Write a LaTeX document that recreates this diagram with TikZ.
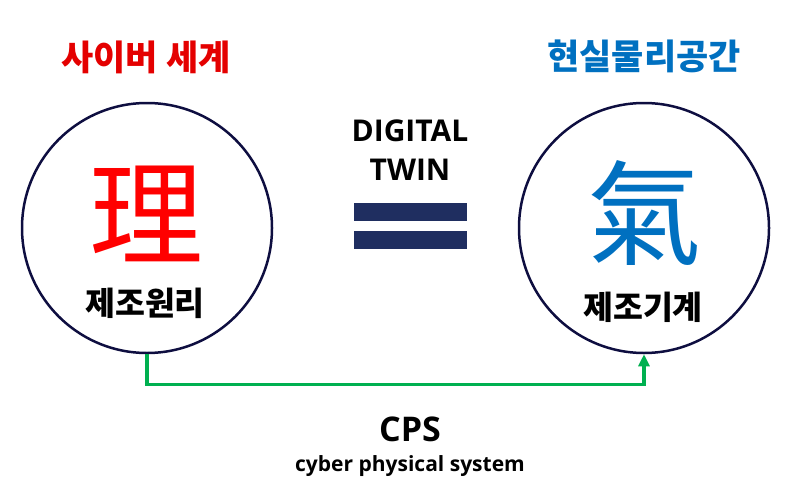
\documentclass[tikz,border=0pt]{standalone}
\usepackage{fontspec}
\setmainfont{Open Sans}
\newfontfamily\kr{Noto Sans CJK KR}
\usetikzlibrary{arrows.meta}
\definecolor{cyred}{RGB}{228,0,0}
\definecolor{phblue}{RGB}{0,112,192}
\definecolor{rimnavy}{RGB}{14,14,64}
\definecolor{barnavy}{RGB}{31,46,96}
\definecolor{cpsgreen}{RGB}{0,176,80}

\tikzset{
world/.style={draw=rimnavy, line width=2.5pt, circle, minimum size=250pt, inner sep=0pt},
worldtitle/.style={font=\kr\bfseries\fontsize{35}{40}\selectfont},
bigchar/.style={font=\kr\fontsize{114}{120}\selectfont},
worldname/.style={font=\kr\bfseries\fontsize{32.5}{36}\selectfont},
twin/.style={font=\bfseries\fontsize{30}{34}\selectfont},
link/.style={draw=cpsgreen, line width=3.5pt, -{Triangle[width=11pt,length=12pt]}}
}

\begin{document}
\begin{tikzpicture}[x=1pt, y=-1pt]

\useasboundingbox (0,0) rectangle (800,487);

% cyber world
\node[world] (lc) at (147,228) {};
\node[worldtitle, text=cyred] (lt) at (146,57) {사이버 세계};
\node[bigchar, text=red] (li) at (146,214) {理};
\node[worldname] (ln) at (145,303) {제조원리};

% physical world
\node[world] (rc) at (644,228) {};
\node[worldtitle, text=phblue] (rt) at (644,56) {현실물리공간};
\node[bigchar, text=phblue] (ri) at (644,213) {氣};
\node[worldname] (rn) at (643,307) {제조기계};

% digital twin
\node[twin] (dg) at (410,131) {DIGITAL};
\node[twin] (tw) at (410,170) {TWIN};
\fill[barnavy] (354,203) rectangle (467,221);
\fill[barnavy] (354,231) rectangle (467,249);

% cps
\draw[link] (lc.south) -- ++(0,30) -| (rc.south);
\node[font=\bfseries\fontsize{34}{40}\selectfont] (cps) at (410,429) {CPS};
\node[font=\bfseries\fontsize{21}{26}\selectfont] (cpsfull) at (410,466) {cyber physical system};

\end{tikzpicture}
\end{document}
